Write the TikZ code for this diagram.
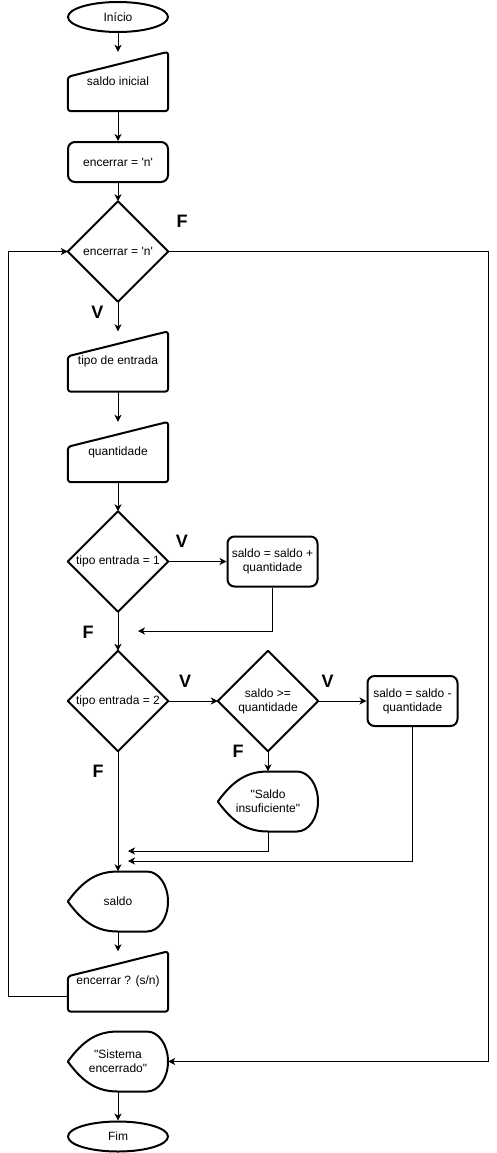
\documentclass[tikz,border=0pt]{standalone}
\usepackage{fontspec}
\setmainfont{Liberation Sans}[Ligatures=TeXOff]
\usepackage{tikz}
\usetikzlibrary{arrows.meta}
\usetikzlibrary{shapes.geometric}

\newcommand{\entrada}[1]{\draw[contorno,rounded corners=3pt] (#1.south west) -- ([shift={(0,-25)}]#1.north west) -- (#1.north east) -- (#1.south east) -- cycle;}
\newcommand{\exibe}[1]{\draw[contorno] (#1.west) .. controls ([shift={(16,22)}]#1.west) and ([shift={(-20,30)}]#1.center) .. ([shift={(0,30)}]#1.center) -- ([shift={(29,30)}]#1.center) arc[start angle=90,end angle=-90,x radius=21,y radius=30] -- ([shift={(0,-30)}]#1.center) .. controls ([shift={(-20,-30)}]#1.center) and ([shift={(16,-22)}]#1.west) .. (#1.west) -- cycle;}
\newcommand{\decide}[1]{\draw[contorno] (#1.north) -- (#1.east) -- (#1.south) -- (#1.west) -- cycle;}

\begin{document}
\begin{tikzpicture}[x=1pt,y=1pt,
  caixa/.style={minimum width=100pt,minimum height=60pt,inner sep=0pt,align=center,font=\fontsize{12}{14}\selectfont},
  processo/.style={caixa,draw,line width=2pt,rounded corners=7pt,minimum height=40pt},
  terminal/.style={caixa,ellipse,draw,line width=2pt,minimum height=30pt},
  losango/.style={caixa,minimum height=100pt},
  contorno/.style={line width=2pt,line join=round},
  seta/.style={line width=1pt,-{Stealth[length=7pt,width=7pt,inset=2pt]}},
  rotulo/.style={font=\fontsize{18}{20}\selectfont\bfseries}]
\useasboundingbox (0,0) rectangle (497,-1153);

\node[terminal] (inicio) at (118,-17) {Início};
\node[caixa,minimum height=59pt] (saldoini) at (118,-81.5) {saldo inicial};
\node[processo] (enc1) at (118,-162) {encerrar = 'n'};
\node[losango] (d1) at (118,-251.5) {encerrar = 'n'};
\node[caixa] (tipo) at (118,-361.5) {tipo de entrada};
\node[caixa] (quant) at (118,-452) {quantidade};
\node[losango] (d2) at (118,-561.5) {tipo entrada = 1};
\node[processo,minimum width=90pt,minimum height=50pt] (soma) at (272.5,-561.5) {saldo = saldo +\\quantidade};
\node[losango] (d3) at (118,-701) {tipo entrada = 2};
\node[losango] (d4) at (268,-701) {saldo >=\\quantidade};
\node[processo,minimum width=90pt,minimum height=50pt] (subtrai) at (412.5,-701) {saldo = saldo -\\quantidade};
\node[caixa] (insuf) at (268,-801.5) {"Saldo\\insuficiente"};
\node[caixa] (saldo) at (118,-901.5) {saldo};
\node[caixa] (enc2) at (118,-981.5) {encerrar ? (s/n)};
\node[caixa] (sistema) at (118,-1061.5) {"Sistema\\encerrado"};
\node[terminal] (fim) at (118,-1136.5) {Fim};

\entrada{saldoini}
\entrada{tipo}
\entrada{quant}
\entrada{enc2}
\decide{d1}
\decide{d2}
\decide{d3}
\decide{d4}
\exibe{insuf}
\exibe{saldo}
\exibe{sistema}

\coordinate (j1) at (138,-631);
\coordinate (j2) at (128,-851);
\coordinate (j3) at (128,-861);
\coordinate (volta) at (8,-996.5);
\coordinate (saida) at (488,-251.5);

\draw[seta] (inicio.south) -- (saldoini.north);
\draw[seta] (saldoini.south) -- (enc1.north);
\draw[seta] (enc1.south) -- (d1.north);
\draw[seta] (d1.south) -- (tipo.north);
\draw[seta] (tipo.south) -- (quant.north);
\draw[seta] (quant.south) -- (d2.north);
\draw[seta] (d2.east) -- (soma.west);
\draw[seta] (d2.south) -- (d3.north);
\draw[seta] (soma.south) |- (j1);
\draw[seta] (d3.east) -- (d4.west);
\draw[seta] (d4.east) -- (subtrai.west);
\draw[seta] (d4.south) -- (insuf.north);
\draw[seta] (d3.south) -- (saldo.north);
\draw[seta] (insuf.south) |- (j2);
\draw[seta] (subtrai.south) |- (j3);
\draw[seta] (saldo.south) -- (enc2.north);
\draw[seta] ([yshift=-15pt]enc2.west) -- (volta) |- (d1.west);
\draw[seta] (d1.east) -- (saida) |- (sistema.east);
\draw[seta] (sistema.south) -- (fim.north);

\node[rotulo] (f1) at (182,-221.5) {F};
\node[rotulo] (v1) at (97.5,-312) {V};
\node[rotulo] (v2) at (182,-541.5) {V};
\node[rotulo] (f2) at (88,-632) {F};
\node[rotulo] (v3) at (185,-681.5) {V};
\node[rotulo] (v4) at (327.5,-681.5) {V};
\node[rotulo] (f4) at (238,-751) {F};
\node[rotulo] (f3) at (98,-771) {F};
\end{tikzpicture}
\end{document}
